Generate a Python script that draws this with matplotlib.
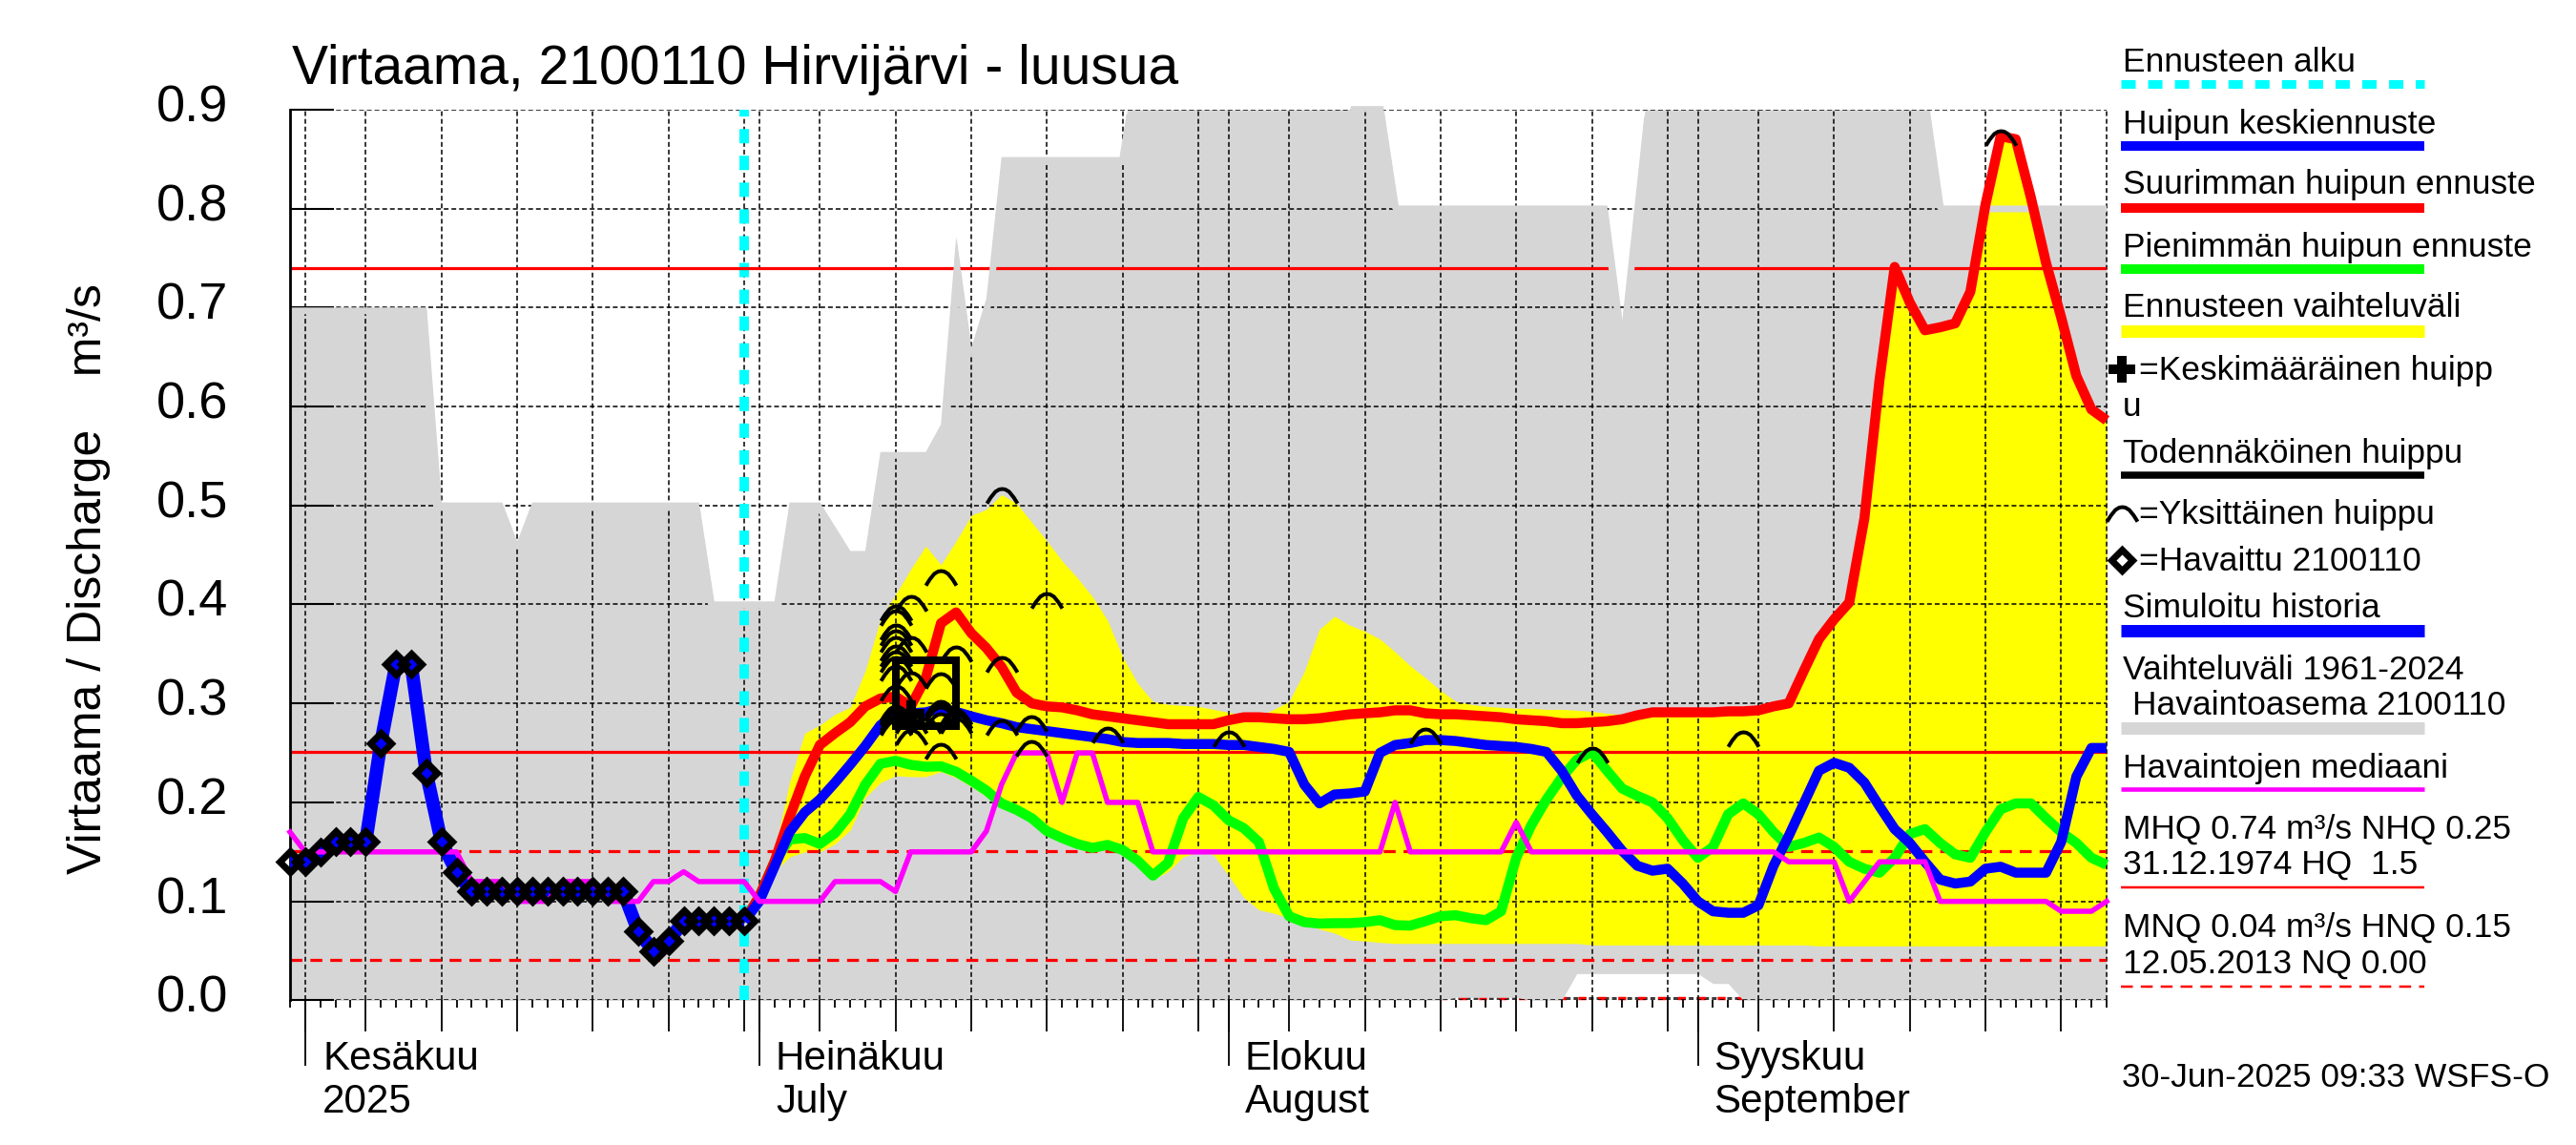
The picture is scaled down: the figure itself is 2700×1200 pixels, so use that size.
import numpy as np
import matplotlib
matplotlib.use('Agg')
import matplotlib.pyplot as plt
from matplotlib.lines import Line2D
from matplotlib.path import Path
from matplotlib.transforms import ScaledTranslation

W, H = 2700, 1200
PX = 0.72  # points per pixel at dpi 100

plt.rcParams['font.family'] = ['Liberation Sans', 'DejaVu Sans']
plt.rcParams['lines.scale_dashes'] = False

# x values are days counted from 31 May 2025
observed = [.14, .14, .15, .16, .16, .16, .26, .34, .34, .23, .16, .13, .11, .11, .11, .11,
            .11, .11, .11, .11, .11, .11, .11, .07, .05, .06, .08, .08, .08, .08, .08]

median_q = [.17, .15, .15, .15, .15, .15, .15, .15, .15, .15, .15, .15, .12, .12, .12, .10, .10, .10,
            .12, .12, .12, .10, .10, .10, .12, .12, .13, .12, .12, .12, .12, .10, .10, .10, .10, .10,
            .12, .12, .12, .12, .11, .15, .15, .15, .15, .15, .171, .218, .25, .25, .25, .20, .25, .25,
            .20, .20, .20, .15, .15, .15, .15, .15, .15, .15, .15, .15, .15, .15, .15, .15, .15, .15,
            .15, .20, .15, .15, .15, .15, .15, .15, .15, .18, .15, .15, .15, .15, .15, .15, .15, .15,
            .15, .15, .15, .15, .15, .15, .15, .15, .15, .14, .14, .14, .14, .10, .12, .14, .14, .14,
            .14, .10, .10, .10, .10, .10, .10, .10, .10, .09, .09, .09, .10]

blue_fc = [.08, .10, .135, .17, .19, .203, .22, .238, .257, .278, .289, .29, .291, .295, .2915, .287,
           .283, .28, .276, .274, .272, .27, .268, .266, .264, .261, .26, .26, .26, .259, .259, .259,
           .258, .258, .256, .254, .251, .218, .199, .208, .209, .211, .25, .258, .26, .263, .263, .262,
           .26, .258, .257, .256, .254, .251, .232, .207, .188, .17, .151, .136, .131, .133, .118, .10,
           .09, .0885, .0885, .096, .136, .166, .199, .232, .24, .235, .22, .196, .173, .159, .14, .122,
           .118, .12, .133, .135, .129, .129, .129, .16, .226, .255, .255]

red_fc = [.08, .105, .14, .185, .226, .258, .27, .281, .297, .305, .307, .297, .326, .381, .392, .371,
          .356, .337, .311, .30, .297, .296, .293, .289, .287, .285, .283, .281, .279, .279, .279, .279,
          .283, .286, .286, .285, .284, .284, .285, .287, .289, .29, .291, .293, .293, .29, .289, .289,
          .288, .287, .286, .284, .283, .282, .28, .28, .281, .282, .284, .288, .291, .291, .291, .291,
          .291, .292, .292, .293, .297, .30, .333, .365, .385, .402, .487, .627, .741, .705, .677, .68,
          .684, .716, .804, .873, .87, .811, .745, .69, .631, .597, .586]

green_fc = [.08, .105, .14, .1625, .164, .158, .169, .188, .218, .239, .242, .238, .236, .2365, .231, .222,
            .212, .199, .1925, .184, .171, .164, .158, .154, .157, .152, .141, .126, .139, .184, .2055, .197,
            .182, .174, .16, .113, .085, .079, .0776, .078, .078, .079, .081, .076, .0755, .08, .085, .086,
            .083, .081, .09, .144, .177, .203, .225, .243, .251, .232, .214, .2066, .2, .184, .162, .144,
            .155, .188, .199, .188, .17, .155, .159, .1645, .155, .14, .133, .129, .144, .168, .173, .159,
            .1475, .144, .17, .193, .199, .199, .184, .17, .159, .144, .137]

yellow_hi = [.08, .11, .15, .2205, .27, .278, .289, .296, .333, .385, .41, .4355, .459, .44, .464, .49,
             .496, .511, .502, .483, .464, .444, .427, .408, .384, .347, .32, .302, .299, .298, .297, .294,
             .291, .288, .287, .294, .302, .332, .375, .388, .379, .373, .365, .352, .338, .326, .313, .302,
             .299, .297, .296, .295, .295, .294, .294, .293, .292, .29, .289, .288, .291, .291, .291, .291,
             .291, .292, .292, .293, .297, .30, .333, .365, .385, .402, .487, .627, .741, .705, .677, .68,
             .684, .716, .804, .873, .87, .811, .745, .69, .631, .597, .586]

yellow_lo = [.08, .10, .13, .145, .15, .15, .158, .172, .205, .22, .227, .226, .226, .231, .225, .216,
             .206, .195, .188, .18, .167, .16, .154, .15, .153, .148, .137, .122, .13, .145, .15, .147,
             .126, .104, .0915, .088, .083, .0785, .072, .068, .061, .06, .0585, .0575, .0575, .0575, .0575, .0575,
             .0575, .0575, .0575, .0575, .0575, .0575, .0575, .0575, .056, .056, .056, .056, .056, .056, .056, .056,
             .056, .056, .056, .056, .056, .056, .056, .055, .055, .055, .055, .055, .055, .055, .055, .055,
             .055, .055, .055, .055, .055, .055, .055, .055, .055, .055, .055]

range_top_x = [0, 9, 10, 14, 15, 16, 27, 28, 32, 33, 35, 37, 38, 39, 42, 43, 44, 45, 46, 47, 54.8, 55.3,
               70, 70.01, 72.2, 73.2, 87, 88, 89, 89.5, 108.3, 109.2, 120]
range_top_y = [.70, .70, .503, .503, .463, .503, .503, .403, .403, .503, .503, .454, .454, .554, .554, .582, .771,
               .659, .709, .852, .852, .90, .90, .904, .904, .803, .803, .686, .828, .90, .90, .803, .803]
range_low_x = [0, 76, 77, 81, 82, 84, 85, 93, 94, 95, 96, 120]
range_low_y = [0, 0, .003, .003, 0, 0, .027, .027, .017, .017, 0, 0]

peak_days = [40, 40, 40, 40, 40, 40, 40, 40, 40, 40, 40, 40, 40, 40, 40, 40, 41, 41, 41, 41, 41, 41, 42,
             43, 43, 43, 43, 43, 43, 43, 44, 44, 44, 44, 47, 47, 47, 49, 49, 50, 54, 62, 75, 86, 96, 113]
peak_vals = [.3988, .394, .379, .373, .3665, .358, .352, .346, .3375, .318, .297, .294, .288, .285, .283, .292,
             .4082, .3665, .331, .2735, .29, .285, .285,
             .4345, .33, .302, .299, .259, .296, .29, .357, .293, .29, .285, .517, .346, .283, .287, .262, .411,
             .275, .271, .274, .2545, .2715, .879]

prob_box_x = [40, 44, 44, 40, 40]
prob_box_y = [.344, .344, .277, .277, .344]
mean_peak_day = 41
mean_peak_val = .2895

forecast_start = 30
MHQ, NHQ, HNQ, MNQ, NQ = .74, .251, .151, .0407, .002

month_days = [1, 31, 62, 93]
five_days = [5, 10, 15, 20, 25, 30, 35, 40, 45, 50, 55, 60, 66, 71, 76, 81, 86, 91, 97, 102, 107, 112, 117]
y_ticks = [0, .1, .2, .3, .4, .5, .6, .7, .8, .9]

GRAY = '#d6d6d6'


def fx(px):
    return px / W


def fy(py):
    return 1 - py / H


def legend_text(x, y, s, size=25.5):
    fig.text(fx(x), fy(y), s, fontsize=size, va='baseline', ha='left', color='k')


def legend_line(y, color, thick, **kw):
    fig.add_artist(Line2D([fx(2223), fx(2541)], [fy(y), fy(y)], color=color, lw=thick * PX,
                          solid_capstyle='butt', dash_capstyle='butt', **kw))


def legend_marker(x, y, **kw):
    fig.add_artist(Line2D([fx(x)], [fy(y)], linestyle='none', **kw))


# arch marker, the apex sits on the value
arc_x = np.array([-1, -.75, -.45, -.2, 0, .2, .45, .75, 1])
arc_y = np.array([-.95, -.55, -.18, -.03, 0, -.03, -.18, -.55, -.95])
arc_marker = Path(np.column_stack([arc_x, arc_y]))

fig = plt.figure(figsize=(W / 100, H / 100), dpi=100)
ax = fig.add_axes([fx(304), fy(1048.4), fx(2208) - fx(304), fy(114.8) - fy(1048.4)])
ax.set_xlim(0, 120)
ax.set_ylim(0, .9)
ax.set_axisbelow(False)

fc_days = np.arange(forecast_start, forecast_start + len(blue_fc))
all_x = np.linspace(0, 120, 2401)
top_curve = np.interp(all_x, range_top_x, range_top_y)

# zero lines sit below the grey band
ax.plot([0, 120], [NQ, NQ], color='k', lw=1.1, ls=(0, (3.6, 2.2)), zorder=.5, clip_on=False)
ax.plot([0, 120], [NQ, NQ], color='#ff0000', lw=2.5, ls=(3, (6, 9)), zorder=.6, clip_on=False)

band = ax.fill_between(all_x, np.interp(all_x, range_low_x, range_low_y), top_curve,
                       color=GRAY, lw=0, zorder=1, clip_on=False)
ax.fill_between(fc_days, yellow_lo, yellow_hi, color='#ffff00', lw=0, zorder=2)

# grey rim just inside the top of the band covers grid and level lines, not where the top is 0.9
rim = np.where(np.abs(top_curve - .9) < .0005, np.nan, top_curve)
rim_line, = ax.plot(all_x, rim, color=GRAY, lw=14 * PX, zorder=4.5, solid_capstyle='butt')
rim_line.set_clip_path(band.get_paths()[0], transform=ax.transData)

ax.set_xticks(month_days + five_days)
ax.set_xticks(np.arange(0, 121), minor=True)
ax.set_xticklabels([])
ax.set_yticks(y_ticks)
ax.set_yticklabels(['%.1f' % v for v in y_ticks], fontsize=39)
ax.tick_params(axis='x', which='major', length=33 * PX, width=1.3, direction='out')
ax.tick_params(axis='x', which='minor', length=8 * PX, width=1.3, direction='out')
ax.tick_params(axis='y', which='major', length=46 * PX, width=1.5, direction='in', pad=65 * PX)
for lab in ax.get_yticklabels():
    lab.set_transform(lab.get_transform() + ScaledTranslation(0, 7 / 100, fig.dpi_scale_trans))
ax.grid(True, which='major', color='k', lw=1.1, ls=(0, (3.6, 2.2)))
ax.axvline(120, color='k', lw=1.1, ls=(0, (3.6, 2.2)), zorder=2.5, clip_on=False)
for name in ['top', 'right', 'bottom']:
    ax.spines[name].set_visible(False)
ax.spines['left'].set_linewidth(2)
ax.spines['left'].set_zorder(4.6)

ax.vlines(month_days, -69 / 1037.3, 0, color='k', lw=1.3, clip_on=False, zorder=2.5)

ax.axvline(forecast_start, color='#00ffff', lw=10 * PX, ls=(0, (10.8, 9.4)), zorder=2.6)

for x0, x1 in [(0, 87.2), (88.7, 120)]:
    ax.plot([x0, x1], [MHQ, MHQ], color='#ff0000', lw=3.2 * PX, zorder=4, solid_capstyle='butt')
ax.plot([0, 120], [NHQ, NHQ], color='#ff0000', lw=3.2 * PX, zorder=4)
ax.plot([0, 120], [HNQ, HNQ], color='#ff0000', lw=3.2 * PX, ls=(0, (9, 6)), zorder=4, dash_capstyle='butt')
ax.plot([0, 120], [MNQ, MNQ], color='#ff0000', lw=3.2 * PX, ls=(0, (9, 6)), zorder=4, dash_capstyle='butt')

ax.plot(fc_days, green_fc, color='#00ff00', lw=10.5 * PX, zorder=5, clip_on=False, solid_capstyle='butt')
ax.plot(fc_days, red_fc, color='#ff0000', lw=10.5 * PX, zorder=5.1, clip_on=False, solid_capstyle='butt')
ax.plot(fc_days, blue_fc, color='#0000ff', lw=10.5 * PX, zorder=5.2, clip_on=False, solid_capstyle='butt')
ax.plot(np.arange(len(observed)), observed, color='#0000ff', lw=14 * PX, zorder=5.2, clip_on=False,
        solid_capstyle='butt')
ax.plot(np.arange(len(median_q)), median_q, color='#ff00ff', lw=5.5 * PX, zorder=5.5, clip_on=False)

ax.plot(prob_box_x, prob_box_y, color='k', lw=8 * PX, zorder=6, solid_joinstyle='miter')
ax.plot([mean_peak_day], [mean_peak_val], marker='P', ms=28 * PX, color='k', mew=0, zorder=6)
ax.plot(peak_days, peak_vals, ls='none', marker=arc_marker, ms=32 * PX, mfc='none', mec='k', mew=4 * PX,
        zorder=6.1)
ax.plot(np.arange(len(observed)), observed, ls='none', marker='D', ms=16 * PX, mfc='none', mec='k', mew=7 * PX,
        zorder=6.2, clip_on=False)

fig.text(fx(306), fy(88), 'Virtaama, 2100110 Hirvijärvi - luusua', fontsize=41, va='baseline', ha='left')
fig.text(fx(116), fy(607), 'Virtaama / Discharge    m³/s', fontsize=36, rotation=90, ha='right', va='center')

legend_text(338, 1121, 'Kesäkuu', 30.3)
legend_text(338, 1165.6, '2025', 30.3)
legend_text(813, 1121, 'Heinäkuu', 30.3)
legend_text(813, 1165.6, 'July', 30.3)
legend_text(1305, 1121, 'Elokuu', 30.3)
legend_text(1305, 1165.6, 'August', 30.3)
legend_text(1796, 1121, 'Syyskuu', 30.3)
legend_text(1796, 1165.6, 'September', 30.3)

legend_text(2225, 74.7, 'Ennusteen alku')
legend_line(87.6, '#00ffff', 9, ls=(0, (10.8, 9.4)))
legend_text(2225, 140, 'Huipun keskiennuste')
legend_line(153, '#0000ff', 10)
legend_text(2225, 203, 'Suurimman huipun ennuste')
legend_line(218, '#ff0000', 10)
legend_text(2225, 269, 'Pienimmän huipun ennuste')
legend_line(282, '#00ff00', 10)
legend_text(2225, 332, 'Ennusteen vaihteluväli')
legend_line(347, '#ffff00', 13)
legend_marker(2224, 387, marker='P', ms=28 * PX, color='k', mew=0)
legend_text(2242, 398, '=Keskimääräinen huipp')
legend_text(2225, 436, 'u')
legend_text(2225, 485, 'Todennäköinen huippu')
legend_line(498, 'k', 7.5)
legend_marker(2224, 531, marker=arc_marker, ms=32 * PX, mfc='none', mec='k', mew=4 * PX)
legend_text(2242, 548.5, '=Yksittäinen huippu')
legend_marker(2224, 587, marker='D', ms=16 * PX, mfc='none', mec='k', mew=7 * PX)
legend_text(2242, 597.5, '=Havaittu 2100110')
legend_text(2225, 646.7, 'Simuloitu historia')
legend_line(660.5, '#0000ff', 13)
legend_text(2225, 711.7, 'Vaihteluväli 1961-2024')
legend_text(2235, 749, 'Havaintoasema 2100110')
legend_line(763.4, GRAY, 13)
legend_text(2225, 815, 'Havaintojen mediaani')
legend_line(827, '#ff00ff', 4.6)
legend_text(2225, 878.6, 'MHQ 0.74 m³/s NHQ 0.25')
legend_text(2225, 915.7, '31.12.1974 HQ  1.5')
legend_line(930, '#ff0000', 2.5)
legend_text(2225, 981.5, 'MNQ 0.04 m³/s HNQ 0.15')
legend_text(2225, 1019.8, '12.05.2013 NQ 0.00')
legend_line(1033.6, '#ff0000', 2.5, ls=(0, (9, 6)))
legend_text(2224, 1138.8, '30-Jun-2025 09:33 WSFS-O')

fig.savefig('out.png', dpi=100)
